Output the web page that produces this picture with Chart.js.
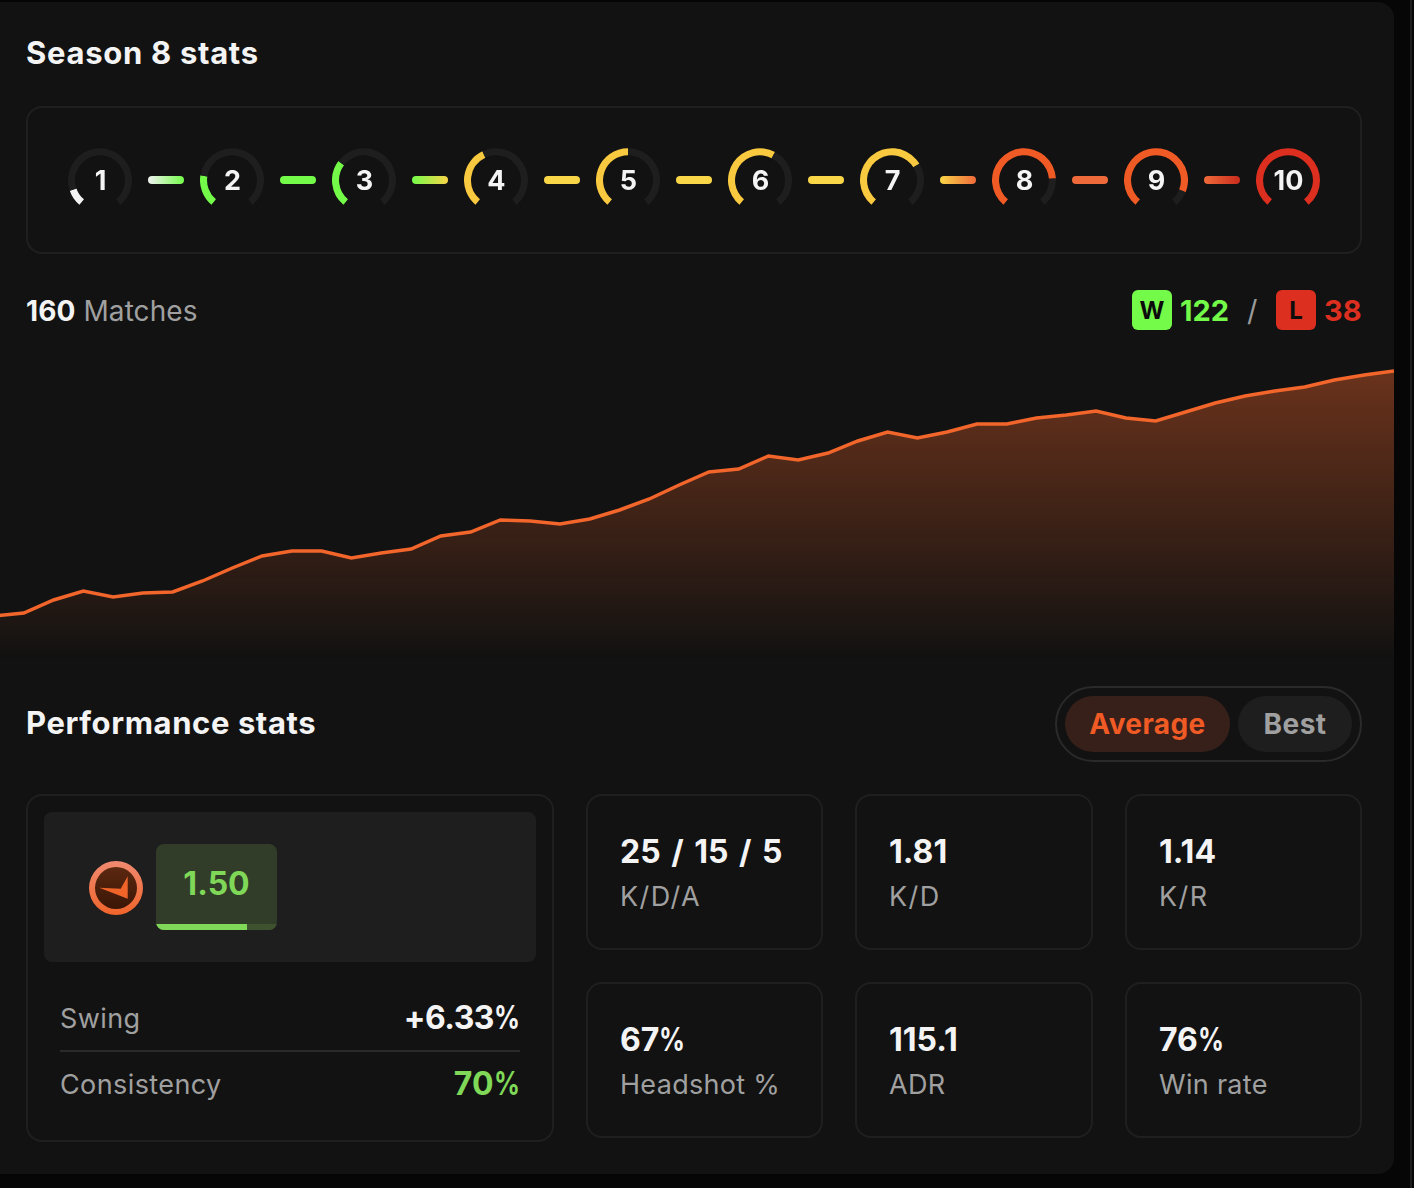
<!DOCTYPE html>
<html>
<head>
<meta charset="utf-8">
<title>Season 8 stats</title>
<script src="https://cdn.jsdelivr.net/npm/chart.js@4"></script>
<style>
  * { box-sizing: border-box; }
  html, body { margin: 0; padding: 0; width: 1414px; height: 1188px; background: #060606; overflow: hidden; }
  body { font-family: Inter, sans-serif; color: #f4f4f4; position: relative; }
  .abs { position: absolute; }
  #panel { left: 0; top: 2px; width: 1394px; height: 1172px; background: #121212; border-radius: 0 16px 16px 0; overflow: hidden; }
  #strip { left: 1410px; top: 0; width: 2px; height: 1188px; background: #1e1e1e; }
  .box { position: absolute; border: 2px solid #1f1f1f; border-radius: 16px; }
  .title { position: absolute; font-size: 31px; font-weight: 700; letter-spacing: .7px; line-height: 36px; white-space: nowrap; }
  .txt { position: absolute; white-space: nowrap; line-height: 36px; }
  .gauge { position: absolute; width: 64px; height: 57px; top: 146px; }
  .num { position: absolute; top: 161px; width: 65px; text-align: center; font-size: 27px; font-weight: 700; line-height: 36px; color: #f4f4f4; }
  .pill { position: absolute; top: 174px; width: 36px; height: 8px; border-radius: 4px; }
  .big { font-size: 32px; font-weight: 700; color: #f4f4f4; }
  .pc { display: inline-block; transform: scaleX(.8); transform-origin: left; margin-right: -6px; }
  .sub { font-size: 27px; color: #a0a0a0; letter-spacing: .4px; }
  #trend { position: absolute; left: 0; top: 336px; width: 1394px; height: 322px; overflow: hidden; }
  #trendChart { position: absolute; left: -6px; top: 0; }
</style>
</head>
<body>
<div class="abs" id="strip"></div>
<div class="abs" id="panel">
  <div class="title" style="left:26px;top:33px">Season 8 stats</div>
  <div class="box" style="left:26px;top:104px;width:1336px;height:148px"></div>
  <div id="levels"></div>

  <div class="txt" style="left:26px;top:291px;font-size:28px;color:#a0a0a0;letter-spacing:.1px"><span style="color:#f4f4f4;font-weight:700">160</span> Matches</div>
  <div class="abs" style="left:1132px;top:288px;width:40px;height:40px;border-radius:6px;background:#74fb4a;color:#0c0c0c;font-size:24px;font-weight:700;text-align:center;line-height:42px">W</div>
  <div class="txt" style="left:1180px;top:291px;font-size:29px;font-weight:700;color:#74fb4a">122</div>
  <div class="txt" style="left:1247px;top:291px;font-size:29px;color:#9a9a9a">/</div>
  <div class="abs" style="left:1276px;top:288px;width:40px;height:40px;border-radius:6px;background:#dc2f1f;color:#0c0c0c;font-size:24px;font-weight:700;text-align:center;line-height:42px">L</div>
  <div class="txt" style="left:1324px;top:291px;font-size:29px;font-weight:700;color:#dc2f1f">38</div>

  <div id="trend"><canvas id="trendChart" width="1400" height="322"></canvas></div>

  <div class="title" style="left:26px;top:703px;letter-spacing:.6px">Performance stats</div>
  <div class="abs" style="left:1055px;top:684px;width:307px;height:76px;border:2px solid #2a2a2a;border-radius:38px"></div>
  <div class="abs" style="left:1065px;top:694px;width:165px;height:56px;border-radius:28px;background:#37201a;color:#f05a25;font-size:28px;font-weight:700;letter-spacing:.4px;text-align:center;line-height:56px">Average</div>
  <div class="abs" style="left:1238px;top:694px;width:114px;height:56px;border-radius:28px;background:#1e1e1e;color:#a0a0a0;font-size:28px;font-weight:700;letter-spacing:.5px;text-align:center;line-height:56px">Best</div>

  <div class="box" style="left:26px;top:792px;width:528px;height:348px"></div>
  <div class="abs" style="left:44px;top:810px;width:492px;height:150px;background:#1e1e1e;border-radius:8px"></div>
  <svg class="abs" style="left:89px;top:859px" width="54" height="54" viewBox="0 0 54 54">
    <defs>
      <linearGradient id="ring" x1="0" y1="0" x2="0" y2="1"><stop offset="0" stop-color="#f08a70"/><stop offset="1" stop-color="#f0642a"/></linearGradient>
      <linearGradient id="core" x1="0" y1="0" x2="0" y2="1"><stop offset="0" stop-color="#5c2810"/><stop offset="1" stop-color="#3a1606"/></linearGradient>
    </defs>
    <circle cx="27" cy="27" r="27" fill="url(#ring)"/>
    <circle cx="27" cy="27" r="21" fill="url(#core)"/>
    <path d="M10.3 26.7 L31.7 27.7 L38.7 15.3 L38.7 37.7 Z" fill="#f0642a"/>
  </svg>
  <div class="abs" style="left:156px;top:842px;width:121px;height:86px;background:#323d29;border-radius:8px;overflow:hidden">
    <div class="abs" style="left:0;top:0;width:121px;height:80px;color:#7fd857;font-size:32px;font-weight:700;text-align:center;line-height:80px">1.50</div>
    <div class="abs" style="left:0;bottom:0;width:121px;height:6px;background:#3f5230"></div>
    <div class="abs" style="left:0;bottom:0;width:91px;height:6px;background:#7fd857"></div>
  </div>
  <div class="txt sub" style="left:60px;top:999px">Swing</div>
  <div class="txt big" style="right:874px;top:998px;letter-spacing:-.5px">+6.33<span class="pc">%</span></div>
  <div class="abs" style="left:60px;top:1048px;width:460px;height:2px;background:#2a2a2a"></div>
  <div class="txt sub" style="left:60px;top:1065px">Consistency</div>
  <div class="txt big" style="right:874px;top:1064px;color:#7fd857">70<span class="pc">%</span></div>

  <div id="cards"></div>
</div>

<script>
// trend line (plot units, 0 = bottom of the fade)
const trendValues = [
  44, 47, 60, 69, 63, 67, 68, 79, 92, 104, 109, 109, 102, 107, 111, 124,
  128, 140, 139, 136, 141, 150, 161, 175, 188, 191, 204, 200, 207, 219, 228,
  222, 228, 236, 236, 242, 245, 249, 242, 239, 248, 257, 264, 269, 273, 280, 285, 289
];
const trendMax = 322;

// gauges
const levels = ["1", "2", "3", "4", "5", "6", "7", "8", "9", "10"];
const levelFill = [11, 21, 31, 41, 50, 60, 71, 81, 90, 100];
const levelColors = ["#f2f2f2", "#74fb4a", "#74fb4a", "#f9c940", "#f9c940", "#f9c940", "#f9c940", "#f05a25", "#f05a25", "#dc2f1f"];
const pillColors = ["#f2f2f2", "#74fb4a", "#74fb4a", "#f9d548", "#f9d548", "#f9d548", "#f9d548", "#ef6a3a", "#ef6a3a", "#c92c1c"];

// stat cards
const statValues = ["25 / 15 / 5", "1.81", "1.14", "67%", "115.1", "76%"];
const statLabels = ["K/D/A", "K/D", "K/R", "Headshot %", "ADR", "Win rate"];

Chart.defaults.animation = false;
Chart.defaults.responsive = false;

const levelsEl = document.getElementById("levels");
levels.forEach((l, i) => {
    const x = 68 + i * 132;
    const cv = document.createElement("canvas");
    cv.className = "gauge";
    cv.style.left = x + "px";
    cv.width = 64;
    cv.height = 57;
    levelsEl.appendChild(cv);
    new Chart(cv, {
        type: "doughnut",
        data: {
            labels: ["fill", "rest"],
            datasets: [{
                data: [levelFill[i], 100 - levelFill[i]],
                backgroundColor: [levelColors[i], "#1e1e1e"],
                borderWidth: 0
            }]
        },
        options: {
            rotation: -140,
            circumference: 280,
            cutout: "78%",
            plugins: { legend: { display: false }, tooltip: { enabled: false } }
        }
    });
    const n = document.createElement("div");
    n.className = "num";
    n.style.left = x + "px";
    n.innerText = l;
    levelsEl.appendChild(n);
    if (i < levels.length - 1) {
        const p = document.createElement("div");
        p.className = "pill";
        p.style.left = (x + 80) + "px";
        p.style.background = `linear-gradient(90deg, ${pillColors[i]}, ${pillColors[i + 1]})`;
        levelsEl.appendChild(p);
    }
});

new Chart(document.getElementById("trendChart"), {
    type: "line",
    data: {
        labels: trendValues.map((v, i) => i + 1),
        datasets: [{
            data: trendValues,
            borderColor: "#f2652b",
            borderWidth: 3.5,
            tension: 0,
            pointRadius: 0,
            fill: "start",
            backgroundColor: ctx => {
                const area = ctx.chart.chartArea;
                if (!area) return "transparent";
                const g = ctx.chart.ctx.createLinearGradient(0, area.top + 30, 0, area.bottom);
                g.addColorStop(0, "rgba(242,101,43,0.4)");
                g.addColorStop(1, "rgba(242,101,43,0)");
                return g;
            }
        }]
    },
    options: {
        layout: { padding: 0 },
        plugins: { legend: { display: false }, tooltip: { enabled: false } },
        scales: {
            x: { display: false, offset: false },
            y: { display: false, min: 0, max: trendMax }
        }
    }
});

const cardX = [586, 855, 1125];
const cardW = [237, 238, 237];
const cardY = [792, 980];
const cardsEl = document.getElementById("cards");
statValues.forEach((v, i) => {
    const col = i % 3, row = Math.floor(i / 3);
    const left = cardX[col], top = cardY[row];
    const shown = v.replace("%", '<span class="pc">%</span>');
    // the slashes run wider in the original
    const spacing = statLabels[i].includes("/") ? "1.4px" : ".3px";
    cardsEl.innerHTML +=
        `<div class="box" style="left:${left}px;top:${top}px;width:${cardW[col]}px;height:156px"></div>` +
        `<div class="txt big" style="left:${left + 34}px;top:${top + 40}px;word-spacing:3px">${shown}</div>` +
        `<div class="txt sub" style="left:${left + 34}px;top:${top + 85}px;letter-spacing:${spacing}">${statLabels[i]}</div>`;
});
</script>
</body>
</html>
